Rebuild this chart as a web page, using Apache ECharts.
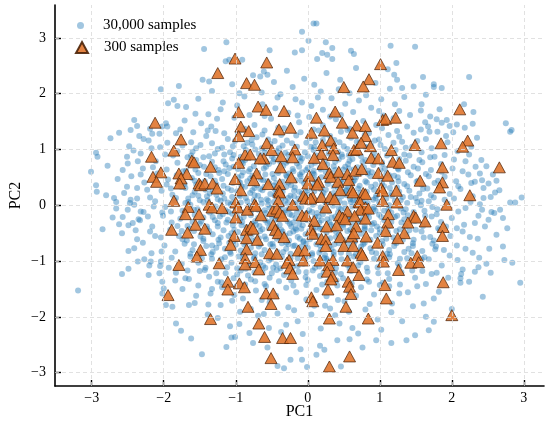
<!DOCTYPE html>
<html><head><meta charset="utf-8">
<script src="https://cdn.jsdelivr.net/npm/echarts@6/dist/echarts.min.js"></script>
<style>html,body{margin:0;padding:0;background:#fff}#c{width:550px;height:435px}</style>
</head><body><div id="c"></div>
<script>
// Tick values of both axes
const xTicks = [-3, -2, -1, 0, 1, 2, 3];
const yTicks = [-3, -2, -1, 0, 1, 2, 3];
const seriesNames = ['30,000 samples', '300 samples'];

// Blue cloud: representative [PC1, PC2] points
const outerSamples = [
[0.08,3.26],[0.12,3.26],[-0.08,3.11],[0.01,2.95],[0.25,2.92],[0.34,2.82],[1.15,2.86],[1.49,2.84],[0.6,2.77],[0.64,2.71],[0.2,2.73],[0.27,2.7],[0.34,2.62],[0.13,2.62],[1.23,2.55],[1.11,2.44],[1.2,2.34],[1.24,2.25],[1.31,2.1],[1.6,2.3],[-1.13,2.92],[-1.44,2.8],[-0.53,2.78],[-1.79,2.14],[-1.46,2.25],[-1.37,2.22],[-1.14,2.58],[-1.09,2.61],[-0.91,2.61],[-0.61,2.4],[-0.66,2.31],[-0.56,2.34],[-0.18,2.74],[-0.08,2.78],[-2.04,2.08],[2.24,2.3],[1.75,2.17],[1.75,2.12],[1.86,2.1],
[-2.62,1.3],[-2.74,1.2],[-2.34,1.24],[-2.48,1.06],[-2.16,1.28],[-2.06,1.28],[-2.51,0.87],[-2.5,0.75],[-2.64,0.47],[-2.69,0.13],[-2.66,0.06],[-2.46,0.1],[-2.41,0.01],[-2.5,-0.08],[-2.62,-0.34],[-2.43,-0.32],[-2.32,-0.11],[-2.22,-0.2],[-3.01,0.6],[-2.94,0.94],[-2.92,0.87],[-2.94,0.36],[-2.93,0.24],[-2.85,-0.43],[-1.94,1.83],[-1.86,1.89],[-1.81,1.78],[-2.41,1.53],[-2.46,1.35],[-1.97,1.47],[-1.95,1.41],[-3.19,-1.53],
[-2.58,-1.23],[-2.49,-1.14],[-2.36,-1.01],[-2.21,-1.25],[-2.2,-1.08],[-2.06,-1.22],[-2.04,-1.01],[-2.02,-1.37],[-2.0,-1.49],[-2.02,-1.58],[-1.97,-1.79],[-1.88,-1.82],[-1.83,-2.12],[-1.76,-2.25],[-1.62,-2.39],[-1.47,-2.67],[-1.13,-2.54],[-1.06,-2.37],[-1.01,-2.36],[-0.95,-2.13],[-0.76,-2.47],[-0.56,-2.55],[-0.42,-2.88],[-0.33,-2.92],[-0.24,-2.77],[-0.08,-2.77],[-1.65,-1.79],[-1.57,-1.75],
[0.12,-2.68],[-0.01,-2.9],[0.46,-2.89],[0.76,-2.55],[1.37,-2.42],[1.49,-2.33],[1.16,-2.47],[0.95,-2.42],[0.41,-2.42],[0.58,-2.4],[0.17,-2.52],[0.23,-2.59],[-0.1,-2.58],[2.95,-1.39],[2.43,-1.64],[1.68,-2.24],[1.75,-2.09],[1.64,-2.0],[2.0,-1.86],[1.75,-1.67],[1.61,-1.76],[2.84,-1.03],[2.73,-0.98],[2.54,-1.21],[2.32,-1.19],[2.37,-1.11],[2.48,-1.05],[2.15,-1.15],[2.12,-1.31],[2.12,-1.39],
[2.97,0.14],[2.81,0.05],[2.81,1.32],[2.39,0.57],[2.67,-0.08],[2.71,-0.23],[2.77,-0.41],[2.71,-0.74],[2.59,-0.14],[2.51,-0.26],[2.42,-0.08],[2.32,-0.32],[2.51,0.39],[2.42,0.45],[2.32,0.42],[2.62,0.44],[2.66,0.27],[2.54,0.15],[2.44,0.13],[2.88,0.05],
[1.64,1.98],[1.83,1.72],[1.57,1.7],[1.7,1.59],[1.79,1.54],[1.93,1.53],[2.17,1.81],[2.3,1.67],[2.29,1.46],[2.75,1.47],[2.83,1.35],[1.97,1.42],[2.07,1.45],[1.57,1.36],[1.69,1.32],[1.8,1.32]
];
const ringSamples = [
[-1.52,1.91],[-1.33,2.05],[-1.18,1.84],[-1.05,2.17],[-0.88,1.95],[-0.76,2.33],[-0.64,2.02],[-0.47,2.21],[-0.38,1.99],[-0.29,2.41],[-0.21,2.12],[-0.05,2.27],[0.09,2.16],[0.26,2.37],[0.33,1.92],[0.45,2.25],[0.58,2.01],[0.67,2.46],[0.81,1.97],[0.94,2.19],[1.02,1.9],[1.14,2.09],[1.34,1.94],[1.47,2.13],[1.21,1.81],[-1.69,1.76],[-1.38,1.63],[-0.45,1.74],[0.21,1.71],[0.63,1.67],[1.42,1.62],[1.58,1.81],[-0.98,1.79],[0.99,1.69],[-0.14,1.61],[0.14,1.93],[-0.6,1.6],[0.46,1.62],[-1.26,1.55],[1.63,1.49],
[-2.37,1.42],[-2.19,1.37],[-2.28,1.19],[-2.02,1.41],[-1.77,1.36],[-2.42,0.98],[-2.17,1.02],[-1.98,0.91],[-2.36,0.79],[-2.15,0.68],[-2.57,0.63],[-2.32,0.55],[-2.51,0.33],[-2.23,0.28],[-2.37,0.12],[-2.14,-0.02],[-2.57,-0.21],[-2.39,-0.45],[-2.12,-0.55],[-2.29,-0.67],[-2.49,-0.82],[-2.03,-0.83],[-2.18,-1.01],[-1.93,-1.12],[-2.35,-0.25],[-1.84,-1.35],[-1.67,-1.17],[-1.81,0.97],[-1.59,1.31],[-1.67,0.86],
[1.67,1.41],[1.86,1.48],[2.02,1.31],[2.18,1.39],[1.94,1.13],[2.35,1.21],[2.03,0.82],[2.24,0.91],[2.41,0.81],[1.76,0.87],[2.15,0.61],[2.33,0.69],[2.57,0.55],[2.09,0.34],[2.27,0.4],[2.44,0.31],[2.03,0.12],[2.19,-0.05],[2.39,0.02],[2.55,-0.12],[2.07,-0.41],[2.25,-0.57],[2.46,-0.38],[2.62,-0.53],[2.19,-0.78],[2.38,-0.94],[1.97,-0.9],[2.13,-1.23],[1.79,-1.21],[1.95,-1.3],[1.64,-1.41],[1.82,-1.55],[2.24,-1.37],[1.58,-0.97],[1.77,-0.79],
[-1.55,-1.62],[-1.39,-1.96],[-1.21,-1.79],[-1.08,-2.17],[-0.94,-1.91],[-0.81,-2.29],[-0.69,-1.98],[-0.54,-2.2],[-0.42,-1.94],[-0.3,-2.14],[-0.19,-1.88],[-0.07,-2.31],[0.05,-1.96],[0.18,-2.21],[0.31,-1.85],[0.44,-2.12],[0.57,-1.91],[0.7,-2.3],[0.86,-1.77],[1.02,-2.23],[1.16,-1.92],[1.31,-2.08],[1.46,-1.81],[1.27,-1.58],[1.52,-1.45],[-1.7,-1.31],[-1.33,-1.5],[0.67,-1.62],[1.0,-1.43],[-0.9,-1.67],[0.09,-1.8],[0.42,-1.7],[-0.64,-1.7],[1.59,-1.18]
];
const coreSamples = [
[-0.42,1.93],[0.18,2.04],[0.71,1.88],[-0.95,2.01],[0.43,2.08],[-0.17,1.9],
[-1.21,1.72],[-0.63,1.81],[-0.27,1.66],[0.05,1.78],[0.36,1.63],[0.88,1.75],[1.27,1.69],[-0.08,1.84],[0.52,1.82],[-1.56,1.64],[1.05,1.61],[-0.81,1.62],
[-1.71,1.52],[-1.34,1.41],[-1.02,1.57],[-0.74,1.44],[-0.51,1.55],[-0.33,1.38],[-0.12,1.49],[0.02,1.58],[0.21,1.43],[0.39,1.54],[0.58,1.37],[0.77,1.51],[0.95,1.44],[1.19,1.56],[1.38,1.41],[-0.91,1.36],[0.31,1.59],[-1.48,1.47],
[-2.21,1.16],[-1.83,1.29],[-1.62,1.13],[-1.41,1.24],[-1.28,1.33],[-1.11,1.19],[-0.97,1.28],[-0.84,1.12],[-0.71,1.22],[-0.6,1.34],[-0.46,1.15],[-0.37,1.26],[-0.22,1.11],[-0.1,1.31],[0.03,1.2],[0.11,1.13],[0.24,1.27],[0.37,1.17],[0.46,1.32],[0.6,1.21],[0.72,1.12],[0.85,1.29],[0.99,1.18],[1.12,1.26],[1.31,1.14],[1.47,1.3],[1.64,1.19],[1.92,1.24],[-0.55,1.18],[0.15,1.34],[-1.95,1.12],[1.24,1.33],
[-2.32,0.93],[-2.05,1.04],[-1.87,0.89],[-1.74,1.07],[-1.6,0.96],[-1.49,1.08],[-1.37,0.88],[-1.25,1.01],[-1.16,0.91],[-1.04,1.06],[-0.93,0.87],[-0.86,0.99],[-0.77,1.09],[-0.68,0.92],[-0.59,1.02],[-0.5,0.88],[-0.43,0.97],[-0.35,1.07],[-0.27,0.9],[-0.19,1.0],[-0.11,0.86],[-0.04,0.95],[0.04,1.05],[0.12,0.89],[0.19,0.98],[0.27,1.08],[0.34,0.87],[0.42,0.96],[0.5,1.06],[0.57,0.9],[0.66,1.0],[0.74,0.88],[0.83,1.03],[0.92,0.94],[1.01,1.08],[1.1,0.89],[1.22,0.99],[1.34,0.91],[1.45,1.05],[1.58,0.95],[1.72,1.02],[1.9,0.9],[2.08,0.97],[-0.31,0.94],[0.08,0.99],[0.47,0.91],[-0.73,1.0],[0.88,1.07],[-1.08,0.95],[2.27,1.05],
[-2.78,0.71],[-2.29,0.66],[-2.11,0.79],[-1.96,0.64],[-1.81,0.76],[-1.69,0.62],[-1.55,0.81],[-1.44,0.69],[-1.33,0.78],[-1.24,0.63],[-1.14,0.73],[-1.05,0.84],[-0.97,0.65],[-0.9,0.75],[-0.82,0.61],[-0.75,0.7],[-0.67,0.8],[-0.61,0.66],[-0.54,0.74],[-0.47,0.83],[-0.41,0.62],[-0.34,0.71],[-0.28,0.8],[-0.21,0.65],[-0.15,0.75],[-0.08,0.84],[-0.02,0.63],[0.05,0.72],[0.11,0.81],[0.17,0.67],[0.23,0.77],[0.3,0.61],[0.36,0.7],[0.43,0.82],[0.49,0.64],[0.56,0.74],[0.62,0.83],[0.69,0.68],[0.76,0.78],[0.84,0.62],[0.91,0.72],[0.99,0.81],[1.07,0.66],[1.16,0.76],[1.26,0.64],[1.36,0.8],[1.47,0.69],[1.59,0.77],[1.71,0.63],[1.85,0.74],[2.01,0.66],[2.19,0.79],[2.48,0.7],[-0.58,0.79],[-0.12,0.69],[0.27,0.73],[0.64,0.64],[-0.87,0.81],[1.03,0.74],[-1.5,0.72],[0.08,0.62],[-0.38,0.77],[0.52,0.69],[1.29,0.72],[-1.09,0.67],
[-2.45,0.52],[-2.27,0.41],[-2.09,0.57],[-1.94,0.46],[-1.82,0.54],[-1.71,0.38],[-1.61,0.49],[-1.52,0.58],[-1.43,0.43],[-1.35,0.52],[-1.27,0.37],[-1.19,0.47],[-1.11,0.56],[-1.04,0.4],[-0.97,0.5],[-0.9,0.59],[-0.84,0.43],[-0.77,0.53],[-0.71,0.36],[-0.65,0.46],[-0.59,0.55],[-0.53,0.39],[-0.47,0.49],[-0.41,0.58],[-0.35,0.42],[-0.29,0.51],[-0.23,0.36],[-0.17,0.45],[-0.11,0.55],[-0.05,0.39],[0.01,0.48],[0.07,0.57],[0.13,0.41],[0.19,0.5],[0.25,0.59],[0.31,0.44],[0.37,0.53],[0.43,0.37],[0.49,0.47],[0.55,0.56],[0.61,0.4],[0.67,0.5],[0.74,0.58],[0.8,0.43],[0.87,0.52],[0.94,0.37],[1.01,0.47],[1.09,0.57],[1.17,0.41],[1.25,0.5],[1.34,0.38],[1.43,0.54],[1.53,0.44],[1.64,0.56],[1.76,0.4],[1.9,0.51],[2.06,0.43],[2.23,0.55],[-0.62,0.45],[-0.26,0.57],[0.1,0.46],[0.46,0.42],[0.83,0.57],[-0.94,0.41],[-1.23,0.58],[1.2,0.53],[-0.44,0.4],[0.28,0.38],[0.65,0.45],[-0.08,0.59],[-1.57,0.44],[1.58,0.37],[-0.8,0.48],[0.97,0.55],[-1.96,0.37],
[-2.55,0.22],[-2.37,0.31],[-2.19,0.14],[-2.03,0.26],[-1.88,0.19],[-1.76,0.33],[-1.66,0.12],[-1.57,0.24],[-1.48,0.32],[-1.4,0.16],[-1.32,0.27],[-1.25,0.11],[-1.18,0.21],[-1.11,0.3],[-1.05,0.15],[-0.98,0.25],[-0.92,0.34],[-0.86,0.13],[-0.8,0.22],[-0.74,0.31],[-0.69,0.17],[-0.63,0.27],[-0.57,0.11],[-0.52,0.2],[-0.46,0.29],[-0.41,0.14],[-0.35,0.24],[-0.3,0.33],[-0.24,0.17],[-0.19,0.26],[-0.13,0.12],[-0.08,0.21],[-0.02,0.3],[0.03,0.15],[0.09,0.25],[0.14,0.34],[0.2,0.18],[0.25,0.28],[0.31,0.12],[0.36,0.22],[0.42,0.31],[0.47,0.16],[0.53,0.26],[0.59,0.11],[0.64,0.2],[0.7,0.3],[0.76,0.14],[0.82,0.24],[0.88,0.33],[0.95,0.17],[1.02,0.27],[1.09,0.12],[1.16,0.22],[1.24,0.32],[1.32,0.15],[1.41,0.26],[1.5,0.13],[1.6,0.29],[1.71,0.18],[1.83,0.31],[1.97,0.2],[2.12,0.29],[2.29,0.16],[2.6,0.23],[-0.6,0.33],[-0.27,0.13],[0.06,0.32],[0.39,0.17],[0.73,0.23],[-0.95,0.19],[1.06,0.34],[-1.36,0.21],[-0.12,0.24],[0.22,0.22],[0.56,0.33],[-0.44,0.22],[0.91,0.1],[-0.77,0.27],[1.27,0.24],[-1.6,0.18],[1.55,0.21],[-2.8,0.18],[0.48,0.24],[-0.04,0.14],[-1.9,0.3],
[-2.66,-0.06],[-2.47,0.04],[-2.28,-0.12],[-2.12,0.07],[-1.98,-0.03],[-1.85,0.09],[-1.74,-0.1],[-1.63,0.01],[-1.53,-0.07],[-1.45,0.06],[-1.36,-0.13],[-1.28,-0.02],[-1.21,0.08],[-1.14,-0.09],[-1.07,0.02],[-1.0,-0.05],[-0.93,0.05],[-0.87,-0.12],[-0.81,-0.01],[-0.75,0.09],[-0.69,-0.08],[-0.64,0.03],[-0.58,-0.14],[-0.53,-0.04],[-0.47,0.06],[-0.42,-0.1],[-0.36,0.0],[-0.31,0.08],[-0.26,-0.07],[-0.2,0.04],[-0.15,-0.13],[-0.09,-0.03],[-0.04,0.07],[0.02,-0.09],[0.07,0.01],[0.13,-0.14],[0.18,-0.04],[0.24,0.06],[0.29,-0.11],[0.35,-0.01],[0.4,0.09],[0.46,-0.07],[0.51,0.03],[0.57,-0.12],[0.62,-0.02],[0.68,0.08],[0.74,-0.08],[0.8,0.02],[0.86,-0.13],[0.92,-0.03],[0.99,0.06],[1.06,-0.1],[1.13,0.0],[1.21,0.08],[1.29,-0.06],[1.38,0.04],[1.47,-0.12],[1.57,0.0],[1.68,0.07],[1.8,-0.07],[1.94,0.03],[2.09,-0.11],[2.26,0.06],[-0.72,-0.03],[-0.33,-0.13],[0.05,0.08],[0.43,-0.04],[0.77,0.05],[-1.11,0.05],[1.16,-0.13],[-1.5,0.09],[1.52,0.06],[-0.17,0.02],[0.21,-0.09],[0.6,0.06],[-0.55,0.08],[0.94,-0.1],[-0.96,-0.09],[1.33,-0.13],[-0.39,-0.06],[0.33,0.04],[-0.01,-0.14],[-1.7,0.04],[1.73,-0.03],[-2.02,-0.13],[0.71,-0.14],
[-2.71,-0.22],[-2.49,-0.36],[-2.33,-0.27],[-2.16,-0.38],[-2.01,-0.19],[-1.89,-0.31],[-1.77,-0.24],[-1.67,-0.37],[-1.57,-0.17],[-1.48,-0.29],[-1.4,-0.38],[-1.32,-0.21],[-1.25,-0.32],[-1.18,-0.16],[-1.11,-0.26],[-1.04,-0.36],[-0.98,-0.2],[-0.91,-0.3],[-0.85,-0.39],[-0.79,-0.18],[-0.73,-0.28],[-0.67,-0.37],[-0.62,-0.22],[-0.56,-0.32],[-0.5,-0.16],[-0.45,-0.26],[-0.39,-0.35],[-0.34,-0.19],[-0.28,-0.29],[-0.23,-0.38],[-0.17,-0.23],[-0.12,-0.33],[-0.06,-0.17],[-0.01,-0.27],[0.05,-0.36],[0.1,-0.21],[0.16,-0.31],[0.21,-0.16],[0.27,-0.25],[0.32,-0.35],[0.38,-0.2],[0.44,-0.3],[0.49,-0.39],[0.55,-0.24],[0.61,-0.34],[0.67,-0.18],[0.73,-0.28],[0.79,-0.37],[0.85,-0.22],[0.92,-0.32],[0.99,-0.17],[1.06,-0.27],[1.13,-0.37],[1.21,-0.21],[1.3,-0.31],[1.39,-0.18],[1.49,-0.28],[1.6,-0.37],[1.72,-0.2],[1.85,-0.3],[2.0,-0.23],[2.17,-0.35],[2.37,-0.19],[-0.59,-0.27],[-0.2,-0.31],[0.19,-0.27],[0.58,-0.2],[-0.94,-0.25],[0.96,-0.38],[-1.29,-0.27],[1.34,-0.25],[-0.42,-0.18],[0.36,-0.38],[-0.03,-0.21],[0.76,-0.24],[-0.77,-0.33],[1.16,-0.3],[-1.6,-0.3],[1.63,-0.19],[-0.25,-0.16],[0.12,-0.39],[0.46,-0.17],[-1.05,-0.15],[1.92,-0.38],
[-2.58,-0.5],[-2.37,-0.61],[-2.19,-0.47],[-2.04,-0.58],[-1.91,-0.44],[-1.79,-0.55],[-1.68,-0.63],[-1.58,-0.46],[-1.49,-0.56],[-1.4,-0.42],[-1.32,-0.52],[-1.24,-0.62],[-1.17,-0.45],[-1.1,-0.55],[-1.03,-0.64],[-0.97,-0.48],[-0.9,-0.58],[-0.84,-0.43],[-0.78,-0.53],[-0.72,-0.62],[-0.66,-0.46],[-0.6,-0.56],[-0.54,-0.41],[-0.48,-0.51],[-0.43,-0.6],[-0.37,-0.44],[-0.31,-0.54],[-0.26,-0.63],[-0.2,-0.47],[-0.14,-0.57],[-0.09,-0.42],[-0.03,-0.52],[0.03,-0.61],[0.08,-0.45],[0.14,-0.55],[0.2,-0.64],[0.26,-0.49],[0.31,-0.59],[0.37,-0.43],[0.43,-0.53],[0.49,-0.62],[0.55,-0.46],[0.61,-0.56],[0.68,-0.41],[0.74,-0.51],[0.81,-0.61],[0.88,-0.45],[0.95,-0.55],[1.03,-0.64],[1.11,-0.48],[1.19,-0.58],[1.28,-0.43],[1.37,-0.53],[1.47,-0.62],[1.58,-0.47],[1.7,-0.57],[1.83,-0.44],[1.98,-0.55],[2.15,-0.47],[2.36,-0.6],[-0.68,-0.59],[-0.25,-0.5],[0.17,-0.42],[0.58,-0.6],[-1.06,-0.5],[1.0,-0.49],[-1.45,-0.6],[1.41,-0.45],[-0.45,-0.45],[0.39,-0.57],[-0.06,-0.64],[0.79,-0.44],[-0.86,-0.63],[1.22,-0.63],[-1.75,-0.46],[1.75,-0.63],[-0.17,-0.41],[0.66,-0.64],
[-2.41,-0.77],[-2.17,-0.86],[-1.99,-0.72],[-1.84,-0.83],[-1.71,-0.69],[-1.6,-0.8],[-1.5,-0.88],[-1.41,-0.73],[-1.32,-0.84],[-1.23,-0.68],[-1.15,-0.78],[-1.07,-0.87],[-1.0,-0.71],[-0.93,-0.81],[-0.86,-0.67],[-0.79,-0.76],[-0.73,-0.86],[-0.66,-0.7],[-0.6,-0.8],[-0.54,-0.89],[-0.48,-0.74],[-0.42,-0.84],[-0.36,-0.68],[-0.3,-0.78],[-0.24,-0.87],[-0.18,-0.72],[-0.12,-0.82],[-0.06,-0.66],[0.0,-0.76],[0.06,-0.86],[0.12,-0.7],[0.18,-0.8],[0.24,-0.89],[0.3,-0.74],[0.36,-0.84],[0.43,-0.68],[0.5,-0.78],[0.57,-0.87],[0.64,-0.71],[0.71,-0.81],[0.79,-0.67],[0.87,-0.77],[0.95,-0.86],[1.04,-0.7],[1.13,-0.8],[1.23,-0.68],[1.34,-0.84],[1.46,-0.73],[1.59,-0.82],[1.73,-0.69],[1.89,-0.8],[2.07,-0.72],[2.29,-0.85],[2.52,-0.78],[-0.52,-0.7],[-0.09,-0.74],[0.33,-0.79],[0.74,-0.74],[-0.9,-0.88],[1.1,-0.87],[-1.27,-0.76],[1.4,-0.78],[-0.27,-0.7],[0.2,-0.68],[0.6,-0.76],
[-2.27,-0.97],[-2.05,-1.09],[-1.89,-0.94],[-1.75,-1.05],[-1.63,-0.92],[-1.52,-1.03],[-1.42,-1.12],[-1.33,-0.96],[-1.24,-1.07],[-1.15,-0.93],[-1.06,-1.03],[-0.98,-1.13],[-0.9,-0.97],[-0.82,-1.08],[-0.74,-0.93],[-0.66,-1.02],[-0.59,-1.12],[-0.51,-0.96],[-0.44,-1.06],[-0.36,-0.92],[-0.29,-1.01],[-0.21,-1.11],[-0.14,-0.95],[-0.06,-1.05],[0.01,-0.91],[0.08,-1.0],[0.16,-1.1],[0.23,-0.94],[0.31,-1.04],[0.39,-1.13],[0.47,-0.97],[0.55,-1.07],[0.64,-0.92],[0.73,-1.02],[0.82,-1.12],[0.92,-0.96],[1.02,-1.06],[1.13,-0.93],[1.25,-1.04],[1.38,-0.95],[1.52,-1.06],[1.68,-0.97],[1.86,-1.08],[2.08,-0.98],[-0.48,-1.12],[0.27,-0.99],
[-1.83,-1.21],[-1.65,-1.32],[-1.5,-1.18],[-1.37,-1.28],[-1.25,-1.37],[-1.14,-1.22],[-1.03,-1.31],[-0.93,-1.17],[-0.83,-1.26],[-0.73,-1.36],[-0.63,-1.2],[-0.53,-1.3],[-0.43,-1.16],[-0.33,-1.25],[-0.23,-1.35],[-0.13,-1.19],[-0.03,-1.29],[0.07,-1.17],[0.17,-1.27],[0.27,-1.37],[0.38,-1.21],[0.49,-1.31],[0.6,-1.18],[0.72,-1.28],[0.85,-1.37],[0.98,-1.22],[1.13,-1.32],[1.3,-1.2],[1.49,-1.3],[1.72,-1.23],
[-1.74,-1.5],[-1.52,-1.44],[-1.35,-1.58],[-1.19,-1.47],[-1.02,-1.61],[-0.87,-1.42],[-0.72,-1.53],[-0.58,-1.45],[-0.44,-1.62],[-0.3,-1.48],[-0.16,-1.56],[-0.02,-1.43],[0.12,-1.52],[0.26,-1.63],[0.41,-1.44],[0.57,-1.55],[0.74,-1.47],[0.92,-1.6],[1.13,-1.45],[1.39,-1.56],
[-1.38,-1.78],[-1.05,-1.71],[-0.79,-1.86],[-0.53,-1.74],[-0.27,-1.83],[-0.02,-1.69],[0.24,-1.8],[0.51,-1.72],[0.8,-1.87],[1.17,-1.76],
[-1.25,-2.02],[-0.61,-1.95],[-0.14,-2.08],[0.38,-1.97],[0.97,-2.05],[-0.37,-2.27],[0.62,-2.2]
];
const innerSamples = [
[-1.16,1.29],[-0.88,1.37],[-0.63,1.27],[-0.41,1.39],[-0.16,1.25],[0.08,1.36],[0.31,1.24],[0.55,1.35],[0.79,1.26],[1.03,1.38],[1.27,1.23],[-1.39,1.34],
[-1.33,1.11],[-1.19,1.03],[-1.01,1.15],[-0.89,1.06],[-0.78,1.17],[-0.64,1.02],[-0.52,1.1],[-0.4,1.02],[-0.29,1.16],[-0.15,1.05],[-0.02,1.12],[0.09,1.04],[0.21,1.17],[0.33,1.06],[0.44,1.13],[0.55,1.01],[0.68,1.14],[0.8,1.05],[0.93,1.16],[1.07,1.01],[1.19,1.12],[1.36,1.03],[1.52,1.15],[-1.55,1.02],
[-1.45,0.86],[-1.29,0.93],[-1.17,0.79],[-1.03,0.9],[-0.92,0.77],[-0.81,0.88],[-0.7,0.79],[-0.6,0.94],[-0.48,0.78],[-0.39,0.89],[-0.3,0.76],[-0.2,0.91],[-0.1,0.79],[0.0,0.88],[0.1,0.76],[0.2,0.86],[0.29,0.93],[0.38,0.78],[0.48,0.87],[0.58,0.8],[0.69,0.93],[0.8,0.81],[0.91,0.86],[1.03,0.77],[1.15,0.92],[1.27,0.83],[1.41,0.89],[1.55,0.81],[-1.62,0.89],[1.7,0.86],
[-1.56,0.64],[-1.41,0.56],[-1.29,0.68],[-1.16,0.61],[-1.03,0.69],[-0.92,0.53],[-0.8,0.65],[-0.69,0.58],[-0.58,0.69],[-0.49,0.56],[-0.39,0.67],[-0.3,0.54],[-0.2,0.61],[-0.1,0.52],[0.0,0.67],[0.09,0.55],[0.18,0.64],[0.28,0.52],[0.38,0.63],[0.47,0.54],[0.57,0.66],[0.67,0.56],[0.78,0.68],[0.89,0.59],[1.01,0.63],[1.13,0.54],[1.25,0.66],[1.39,0.59],[1.53,0.66],[1.68,0.52],[-1.73,0.61],[1.86,0.6],
[-1.7,0.31],[-1.55,0.37],[-1.42,0.28],[-1.29,0.44],[-1.17,0.35],[-1.06,0.27],[-0.96,0.42],[-0.87,0.33],[-0.76,0.4],[-0.66,0.29],[-0.56,0.43],[-0.47,0.35],[-0.37,0.29],[-0.27,0.41],[-0.18,0.32],[-0.09,0.44],[0.0,0.26],[0.09,0.38],[0.18,0.29],[0.27,0.44],[0.36,0.33],[0.45,0.39],[0.54,0.28],[0.63,0.42],[0.72,0.35],[0.82,0.41],[0.92,0.28],[1.03,0.4],[1.14,0.31],[1.26,0.43],[1.38,0.34],[1.51,0.42],[1.66,0.3],[1.81,0.44],
[-1.83,0.13],[-1.66,0.06],[-1.52,0.17],[-1.39,0.09],[-1.27,0.19],[-1.16,0.12],[-1.04,0.05],[-0.94,0.16],[-0.84,0.07],[-0.74,0.18],[-0.65,0.1],[-0.55,0.01],[-0.46,0.17],[-0.37,0.11],[-0.28,0.03],[-0.19,0.16],[-0.1,0.08],[-0.01,0.19],[0.08,0.06],[0.17,0.11],[0.26,0.02],[0.35,0.14],[0.44,0.07],[0.54,0.18],[0.63,0.09],[0.73,0.15],[0.83,0.04],[0.94,0.13],[1.05,0.06],[1.17,0.17],[1.29,0.09],[1.43,0.15],[1.58,0.08],[1.75,0.14],[1.9,0.1],
[-1.9,-0.11],[-1.73,-0.19],[-1.58,-0.08],[-1.45,-0.22],[-1.33,-0.1],[-1.22,-0.2],[-1.1,-0.12],[-0.99,-0.07],[-0.89,-0.21],[-0.79,-0.11],[-0.69,-0.23],[-0.6,-0.09],[-0.5,-0.2],[-0.41,-0.24],[-0.31,-0.09],[-0.22,-0.18],[-0.13,-0.06],[-0.04,-0.24],[0.06,-0.12],[0.15,-0.2],[0.24,-0.09],[0.33,-0.22],[0.42,-0.13],[0.52,-0.06],[0.61,-0.21],[0.71,-0.12],[0.81,-0.19],[0.91,-0.07],[1.02,-0.21],[1.12,-0.08],[1.24,-0.19],[1.36,-0.07],[1.49,-0.2],[1.62,-0.1],[1.79,-0.16],
[-1.81,-0.37],[-1.64,-0.42],[-1.5,-0.33],[-1.37,-0.46],[-1.25,-0.38],[-1.13,-0.31],[-1.02,-0.44],[-0.92,-0.36],[-0.82,-0.47],[-0.72,-0.35],[-0.63,-0.43],[-0.53,-0.3],[-0.44,-0.39],[-0.35,-0.47],[-0.25,-0.33],[-0.16,-0.44],[-0.07,-0.36],[0.02,-0.46],[0.11,-0.34],[0.2,-0.42],[0.3,-0.31],[0.39,-0.47],[0.49,-0.35],[0.59,-0.44],[0.69,-0.3],[0.79,-0.41],[0.89,-0.34],[1.0,-0.43],[1.11,-0.36],[1.23,-0.46],[1.36,-0.37],[1.5,-0.44],[1.65,-0.33],[1.81,-0.41],
[-1.74,-0.61],[-1.58,-0.7],[-1.45,-0.64],[-1.33,-0.72],[-1.21,-0.58],[-1.09,-0.67],[-0.99,-0.6],[-0.88,-0.71],[-0.78,-0.63],[-0.68,-0.74],[-0.58,-0.61],[-0.49,-0.69],[-0.39,-0.58],[-0.3,-0.67],[-0.2,-0.73],[-0.11,-0.6],[-0.02,-0.69],[0.08,-0.57],[0.17,-0.72],[0.27,-0.62],[0.37,-0.7],[0.46,-0.59],[0.56,-0.68],[0.66,-0.58],[0.77,-0.7],[0.87,-0.62],[0.98,-0.72],[1.09,-0.6],[1.2,-0.73],[1.32,-0.62],[1.46,-0.68],[1.61,-0.58],[1.78,-0.74],
[-1.63,-0.87],[-1.47,-0.95],[-1.34,-0.88],[-1.2,-0.97],[-1.08,-0.84],[-0.96,-0.92],[-0.85,-0.85],[-0.75,-0.96],[-0.64,-0.88],[-0.54,-0.99],[-0.44,-0.91],[-0.34,-0.84],[-0.24,-0.95],[-0.14,-0.87],[-0.04,-0.98],[0.06,-0.89],[0.16,-0.85],[0.26,-0.96],[0.36,-0.89],[0.46,-0.85],[0.56,-0.97],[0.67,-0.88],[0.78,-0.94],[0.89,-0.84],[1.01,-0.95],[1.14,-0.88],[1.28,-0.96],[1.44,-0.86],[1.62,-0.93],
[-1.43,-1.16],[-1.27,-1.22],[-1.12,-1.11],[-0.98,-1.24],[-0.86,-1.14],[-0.74,-1.2],[-0.62,-1.09],[-0.5,-1.22],[-0.38,-1.13],[-0.26,-1.21],[-0.14,-1.09],[-0.02,-1.2],[0.1,-1.12],[0.22,-1.2],[0.34,-1.1],[0.46,-1.23],[0.58,-1.14],[0.7,-1.08],[0.83,-1.19],[0.97,-1.11],[1.11,-1.22],[1.27,-1.1],[1.45,-1.17],
[-1.2,-1.38],[-0.99,-1.45],[-0.79,-1.33],[-0.6,-1.41],[-0.4,-1.36],[-0.2,-1.44],[0.0,-1.34],[0.2,-1.42],[0.4,-1.35],[0.61,-1.4],[0.82,-1.33],[1.04,-1.39],[1.28,-1.42]
];

// Orange triangles: [PC1, PC2]
const subsetSamples = [
[-2.12,1.48],[-1.01,2.63],[-0.57,2.56],[-1.25,2.37],[-0.85,2.19],[-0.74,2.16],[-0.69,1.77],[-0.58,1.71],[-0.96,1.67],[-0.33,1.69],[-0.93,1.41],[-0.82,1.33],[-0.4,1.36],[-0.24,1.39],
[1.01,2.53],[0.85,2.26],[0.5,2.12],[0.77,2.13],[0.38,1.68],[0.12,1.57],[0.48,1.48],[1.04,1.53],[1.08,1.55],[1.22,1.57],[0.68,1.43],[0.8,1.42],[0.23,1.34],[0.05,1.3],[0.62,1.3],[2.11,1.72],
[-2.17,0.87],[-1.86,0.98],[-1.76,1.18],[-2.15,0.51],[-2.04,0.59],[-2.1,0.42],[-1.86,0.08],[-1.89,-0.44],
[-0.96,1.24],[-1.61,0.8],[-1.58,0.77],[-1.35,0.69],[-0.96,0.76],[-0.87,0.91],[-0.8,0.91],[-0.57,1.11],[-0.5,0.99],[-0.61,0.84],[-0.66,0.84],[-0.37,0.88],[-0.18,1.0],[-0.21,0.86],[-0.38,0.68],[-1.79,0.57],[-1.68,0.56],[-1.76,0.48],[-1.78,0.39],[-1.51,0.39],[-1.49,0.36],[-1.43,0.39],[-1.32,0.39],[-1.26,0.3],[-1.01,0.47],[-0.71,0.57],[-0.75,0.45],[-0.93,0.27],[-0.55,0.38],[-0.23,0.5],[-0.39,0.38],[-0.4,0.26],[-0.39,0.23],[-0.06,0.17],[-0.41,0.08],[-1.0,0.05],[-0.97,-0.04],[-1.37,0.01],[-1.33,-0.04],[-1.19,-0.05],[-0.84,-0.08],[-0.74,0.02],[-0.72,-0.01],[-1.66,-0.03],[-1.7,-0.16],[-1.51,-0.16],[-1.0,-0.22],[-0.65,-0.18],[-0.49,-0.1],[-0.43,-0.06],[-0.39,-0.13],[-0.35,-0.19],[-0.21,0.01],[-0.08,-0.18],[-1.56,-0.35],[-1.43,-0.42],[-1.67,-0.49],[-0.85,-0.44],[-0.79,-0.38],[-0.76,-0.42],[-0.48,-0.35],[-0.45,-0.44],[-0.41,-0.5],[-0.33,-0.57],[-1.02,-0.55],[-1.07,-0.71],[-0.85,-0.59],[-0.7,-0.62],[-0.85,-0.79],[-1.49,-0.8],[-1.54,-0.92],[-0.53,-0.86],[-0.43,-0.87],[-0.13,-0.81],[-0.26,-0.98],[-0.87,-0.95],[-1.23,-1.04],
[0.8,1.24],[0.2,1.08],[0.32,1.16],[0.36,1.02],[0.19,0.92],[0.09,0.85],[0.35,0.9],[0.64,0.99],[0.68,1.0],[0.74,1.12],[0.87,1.06],[1.16,0.99],[1.49,1.08],[0.88,0.85],[0.98,0.84],[1.18,0.78],[1.27,0.76],[0.21,0.74],[0.02,0.53],[0.0,0.39],[0.15,0.42],[0.13,0.37],[0.3,0.58],[0.32,0.51],[0.42,0.42],[0.43,0.6],[0.55,0.56],[0.57,0.45],[0.66,0.62],[0.75,0.65],[0.45,0.27],[0.61,0.27],[0.63,0.23],[0.77,0.22],[0.8,0.2],[0.98,0.58],[1.11,0.53],[1.02,0.31],[1.04,0.26],[1.23,0.26],[1.56,0.44],[-0.03,0.12],[0.07,0.15],[0.04,0.12],[0.19,0.15],[0.31,0.15],[0.37,0.11],[0.71,0.06],[0.73,0.05],[0.8,-0.04],[1.04,0.08],[1.24,0.05],[0.25,-0.04],[0.55,-0.11],[0.73,-0.08],[0.84,-0.06],[-0.02,-0.19],[0.09,-0.28],[0.44,-0.18],[0.48,-0.22],[0.52,-0.25],[0.65,-0.19],[0.8,-0.24],[1.12,-0.16],[1.47,-0.19],[1.5,-0.22],[1.11,-0.31],[1.39,-0.31],[1.63,-0.29],[0.26,-0.38],[0.4,-0.36],[0.67,-0.38],[0.05,-0.44],[0.07,-0.51],[1.08,-0.46],[1.34,-0.5],[0.19,-0.6],[0.25,-0.61],[0.45,-0.57],[0.61,-0.56],[0.64,-0.5],[0.81,-0.56],[1.25,-0.59],[0.25,-0.73],[0.5,-0.73],[0.63,-0.73],[0.97,-0.67],[-0.04,-0.81],[0.74,-0.85],[0.76,-0.89],[1.04,-0.91],[1.52,-0.91],[0.17,-0.99],[0.35,-0.98],[0.55,-0.99],[1.05,-1.01],[1.43,-1.03],[1.54,-1.02],[-0.06,-0.99],
[0.29,-1.07],[0.27,-1.19],[0.63,-1.11],[1.26,-1.16],[0.34,-1.27],[0.32,-1.33],[0.71,-1.25],[0.56,-1.37],[0.58,-1.46],[0.28,-1.51],[0.6,-1.59],[1.07,-1.43],[1.09,-1.67],[0.05,-1.65],[0.07,-1.72],[0.53,-1.82],[0.3,-2.03],[0.84,-2.03],[0.58,-2.71],[0.3,-2.89],
[-0.87,-1.06],[-0.73,-1.02],[-0.68,-1.15],[-0.29,-1.03],[-0.25,-1.13],[-0.21,-1.23],[-1.11,-1.37],[-1.11,-1.51],[-0.95,-1.4],[-0.88,-1.47],[-0.58,-1.58],[-0.48,-1.58],[-0.51,-1.77],[-0.83,-1.82],[-1.35,-2.04],[-0.68,-2.12],[-0.6,-2.36],[-0.35,-2.38],[-0.24,-2.38],[-0.51,-2.74],
[-1.94,-1.61],[-1.79,-1.07],
[1.85,1.11],[2.22,1.16],[2.15,1.05],[2.66,0.68],[1.87,0.68],[1.87,0.41],[1.83,0.32],[2.25,0.18],[1.93,0.01],[1.88,-0.39],[1.87,-0.55],
[1.88,-1.38],[2.0,-1.97]
];

const FONT = 'Liberation Serif';
const fmt = v => Number.isInteger(v) ? String(v).replace('-', '\u2212') : '';

const chart = echarts.init(document.getElementById('c'), null, {renderer: 'canvas'});
chart.setOption({
  animation: false,
  backgroundColor: '#fff',
  textStyle: {fontFamily: FONT, color: '#000'},
  grid: {left: 54, right: 6, top: 5, bottom: 49},
  legend: [
    {data: [{name: seriesNames[0], icon: 'circle'}], left: 77, top: 18, padding: 0, itemWidth: 7, itemHeight: 7,
     selectedMode: false, textStyle: {fontFamily: FONT, fontSize: 15, color: '#000', padding: [0, 0, 0, 14]}},
    {data: [{name: seriesNames[1], icon: 'triangle'}], left: 75, top: 40, padding: 0, itemWidth: 12, itemHeight: 11,
     selectedMode: false, textStyle: {fontFamily: FONT, fontSize: 15, color: '#000', padding: [0, 0, 0, 11]}}
  ],
  xAxis: {
    type: 'value', min: -3.51, max: 3.28,
    name: 'PC1', nameLocation: 'middle', nameGap: 18, nameMoveOverlap: false,
    nameTextStyle: {fontFamily: FONT, fontSize: 16, color: '#000'},
    axisLine: {show: true, onZero: false, lineStyle: {color: '#000', width: 1.6}},
    axisTick: {show: true, inside: true, length: 6, lineStyle: {color: '#000', width: 1.4}, customValues: xTicks},
    axisLabel: {fontFamily: FONT, fontSize: 14, color: '#000', margin: 5, formatter: fmt, customValues: xTicks},
    splitLine: {show: false}
  },
  yAxis: {
    type: 'value', min: -3.24, max: 3.59,
    name: 'PC2', nameLocation: 'middle', nameGap: 31, nameRotate: 90, nameMoveOverlap: false,
    nameTextStyle: {fontFamily: FONT, fontSize: 16, color: '#000'},
    axisLine: {show: true, onZero: false, lineStyle: {color: '#000', width: 1.6}},
    axisTick: {show: true, inside: true, length: 6, lineStyle: {color: '#000', width: 1.4}, customValues: yTicks},
    axisLabel: {fontFamily: FONT, fontSize: 14, color: '#000', margin: 9, formatter: fmt, customValues: yTicks},
    splitLine: {show: false}
  },
  series: [
    {
      name: 'grid', type: 'line', data: [], z: 1, silent: true,
      markLine: {
        silent: true, symbol: 'none', animation: false, label: {show: false},
        lineStyle: {color: '#d9d9d9', type: [4, 3], width: 0.8},
        data: xTicks.map(v => ({xAxis: v})).concat(yTicks.map(v => ({yAxis: v})))
      }
    },
    {
      name: seriesNames[0], type: 'scatter', z: 2, symbol: 'circle', symbolSize: 6,
      itemStyle: {color: '#1f77b4', opacity: 0.42},
      data: outerSamples.concat(ringSamples, coreSamples, innerSamples)
    },
    {
      name: seriesNames[1], type: 'scatter', z: 3, symbol: 'triangle', symbolSize: [12, 11],
      itemStyle: {color: '#e0752d', opacity: 0.9, borderColor: '#4a2208', borderWidth: 0.8},
      data: subsetSamples
    }
  ]
});
</script>
</body></html>
